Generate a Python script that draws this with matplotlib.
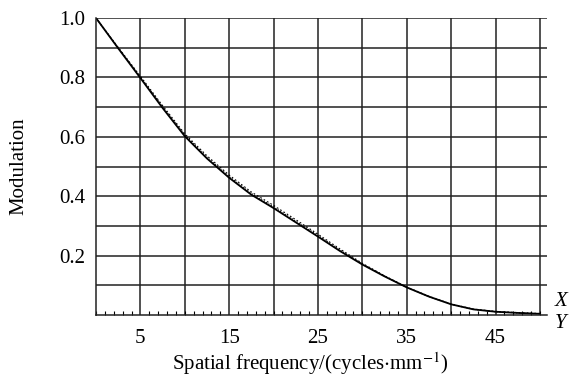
import numpy as np
import matplotlib
matplotlib.use("Agg")
import matplotlib.pyplot as plt
from matplotlib.ticker import MultipleLocator

plt.rcParams["font.family"] = ["Liberation Serif", "DejaVu Serif"]
plt.rcParams["mathtext.fontset"] = "stix"

# ---------------------------------------------------------------- data
freq = [0, 2.5, 5, 7.5, 10, 12.5, 15, 17.5, 20, 22.5, 25,
        27.5, 30, 32.5, 35, 37.5, 40, 42.5, 45, 47.5, 50]
mtf_main = [1.0, 0.898, 0.798, 0.697, 0.602, 0.527, 0.462, 0.405, 0.360, 0.312, 0.264,
            0.215, 0.170, 0.130, 0.093, 0.062, 0.036, 0.019, 0.011, 0.007, 0.004]
mtf_x = [1.0, 0.901, 0.804, 0.705, 0.610, 0.536, 0.471, 0.414, 0.369, 0.321, 0.272,
         0.222, 0.174, 0.132, 0.094, 0.063, 0.037, 0.020, 0.012, 0.008, 0.005]
mtf_y = [1.0, 0.899, 0.801, 0.701, 0.606, 0.531, 0.466, 0.409, 0.364, 0.316, 0.268,
         0.218, 0.172, 0.131, 0.093, 0.062, 0.036, 0.019, 0.011, 0.007, 0.004]

y_ticks = [0.2, 0.4, 0.6, 0.8, 1.0]
x_ticks = [5, 15, 25, 35, 45]

FS = 15

# ---------------------------------------------------------------- plot
fig = plt.figure(figsize=(5.69, 3.77), dpi=100)
ax = fig.add_axes([96 / 569, 1 - 315 / 377, (547 - 96) / 569, (315 - 18) / 377])

ax.plot(freq, mtf_main, color="black", lw=1.3)
ax.plot(freq, mtf_x, color="black", lw=0.8, ls=(0, (1.5, 2)))
ax.plot(freq, mtf_y, color="black", lw=0.8, ls=(0, (1, 1.5)))

ax.set_xlim(0, 50.8)
ax.set_ylim(0, 1.0)

# grid: every 5 cycles/mm and every 0.1 modulation
for v in np.arange(5, 51, 5):
    ax.axvline(v, color="#222222", lw=1.1, zorder=0)
for v in np.arange(0.1, 1.01, 0.1):
    ax.axhline(v, color="#222222", lw=1.1, zorder=0)

ax.spines["right"].set_visible(False)
ax.spines["top"].set_visible(False)
for s in ("left", "bottom"):
    ax.spines[s].set_linewidth(1.1)
    ax.spines[s].set_color("#222222")

ax.set_xticks(x_ticks)
ax.set_xticklabels([str(t) for t in x_ticks])
ax.xaxis.set_minor_locator(MultipleLocator(1))
ax.tick_params(axis="x", which="major", length=0, pad=10, labelsize=FS)
ax.tick_params(axis="x", which="minor", direction="in", length=3, width=0.8)
ax.set_yticks(y_ticks)
ax.set_yticklabels([f"{t:.1f}" for t in y_ticks])
ax.tick_params(axis="y", length=0, pad=8, labelsize=FS)

ax.set_ylabel("Modulation", fontsize=FS)
ax.yaxis.set_label_coords((28 - 96) / 451, 0.5)
fig.text(310 / 569, 1 - 364 / 377, "Spatial frequency/(cycles$\\cdot$mm$^{-1}$)",
         ha="center", va="center", fontsize=FS)

fig.text(561 / 569, 1 - 301 / 377, "X", style="italic", fontsize=FS, ha="center", va="center")
fig.text(561 / 569, 1 - 323 / 377, "Y", style="italic", fontsize=FS, ha="center", va="center")

fig.savefig("out.png", dpi=100)
